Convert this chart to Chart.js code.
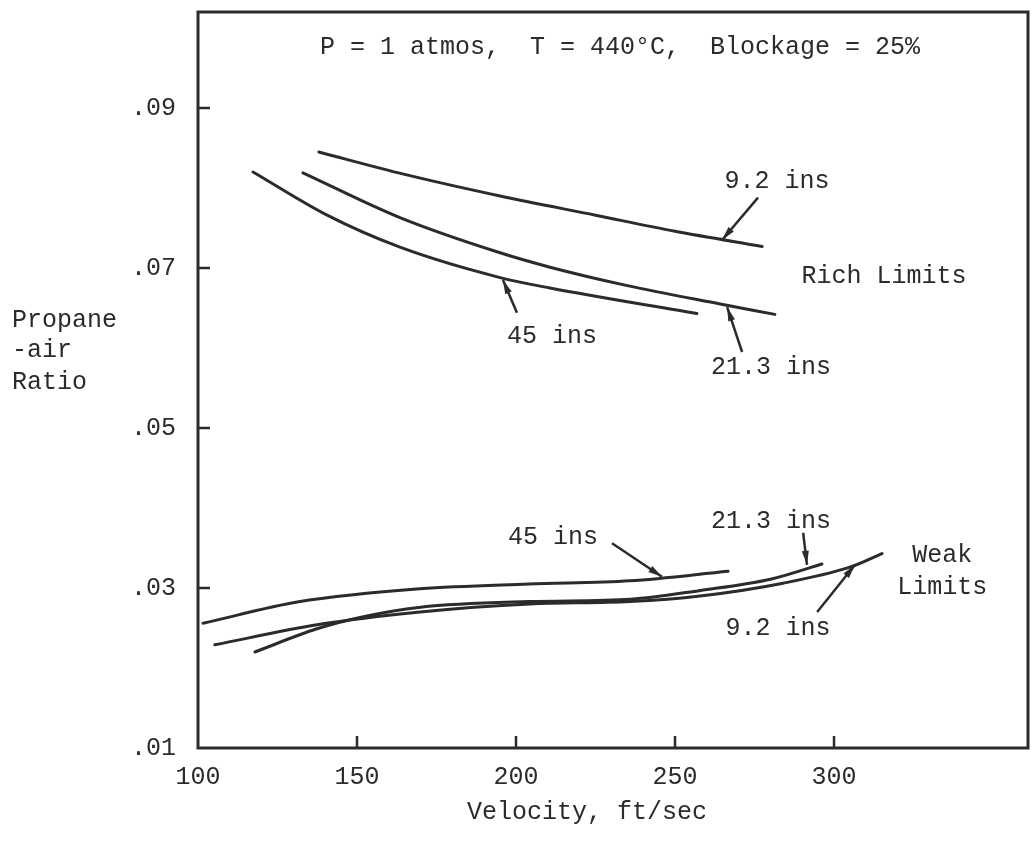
<!DOCTYPE html>
<html>
<head>
<meta charset="utf-8">
<script src="https://cdn.jsdelivr.net/npm/chart.js@4"></script>
<style>
  body { margin: 0; background: #fff; }
  #wrap { width: 1032px; height: 843px; }
</style>
</head>
<body>
<div id="wrap"><canvas id="c"></canvas></div>
<script>
// velocity (ft/sec) and propane-air ratio
var rich92V  = [138, 165, 195, 225, 250, 277.4];
var rich92R  = [0.0845, 0.0817, 0.0790, 0.0766, 0.0746, 0.0727];
var rich213V = [133, 163.5, 195, 210.7, 235, 264.2, 281.4];
var rich213R = [0.0819, 0.0763, 0.0719, 0.0701, 0.0678, 0.0655, 0.0642];
var rich45V  = [117.3, 140.6, 163.5, 195, 210.7, 256.9];
var rich45R  = [0.082, 0.0766, 0.0726, 0.0688, 0.0675, 0.0643];

var weak45V  = [101.6, 132.1, 169.8, 204, 235.8, 266.7];
var weak45R  = [0.0256, 0.0283, 0.0299, 0.0305, 0.0309, 0.0321];
var weak92V  = [105.3, 137.4, 169.8, 204.4, 235.8, 257.9, 284, 305, 315.1];
var weak92R  = [0.0229, 0.0254, 0.0270, 0.0280, 0.0283, 0.0290, 0.0306, 0.0326, 0.0343];
var weak213V = [117.9, 137.4, 153.1, 170, 204, 236, 258, 280, 296.2];
var weak213R = [0.0220, 0.0249, 0.0265, 0.0276, 0.0283, 0.0286, 0.0297, 0.0311, 0.0330];

var xTicks = [100, 150, 200, 250, 300];
var yTicks = [0.01, 0.03, 0.05, 0.07, 0.09];

var FONT = '"Liberation Mono", "DejaVu Sans Mono", monospace';
var INK = '#2b2b2b';

function pts(vs, rs) {
    return vs.map(function (v, i) { return { x: v, y: rs[i] }; });
}

function curve(vs, rs) {
    return {
        data: pts(vs, rs),
        borderColor: INK,
        borderWidth: 3,
        pointRadius: 0,
        fill: false,
        cubicInterpolationMode: 'monotone',
        borderCapStyle: 'round'
    };
}

// text labels placed in data units
var notes = [
    { text: 'P = 1 atmos,  T = 440°C,  Blockage = 25%', x: 232.7, y: 0.0976 },
    { text: '9.2 ins', x: 282.1, y: 0.0808 },
    { text: 'Rich Limits', x: 315.7, y: 0.069 },
    { text: '45 ins', x: 211.3, y: 0.0614 },
    { text: '21.3 ins', x: 280.2, y: 0.0576 },
    { text: '45 ins', x: 211.6, y: 0.0363 },
    { text: '21.3 ins', x: 280.2, y: 0.0383 },
    { text: '9.2 ins', x: 282.4, y: 0.025 },
    { text: 'Weak', x: 334, y: 0.0341 },
    { text: 'Limits', x: 334, y: 0.0301 }
];

// leader arrows: from (x1,y1) to tip (x2,y2)
var arrows = [
    [276.1, 0.0788, 264.8, 0.0735],
    [200.3, 0.0644, 195.9, 0.0685],
    [271.1, 0.0595, 266.4, 0.0651],
    [230.2, 0.0356, 245.9, 0.0314],
    [290.3, 0.0369, 291.5, 0.0329],
    [294.7, 0.0270, 306.6, 0.0329]
];

var yTitle = ['Propane', '-air', 'Ratio'];
var yTitleR = [0.0635, 0.05975, 0.05575];

var extras = {
    id: 'extras',
    afterDraw: function (chart) {
        var ctx = chart.ctx;
        var a = chart.chartArea;
        var xs = chart.scales.x, ys = chart.scales.y;
        ctx.save();
        ctx.strokeStyle = INK;
        ctx.fillStyle = INK;

        // frame
        ctx.lineWidth = 3;
        ctx.strokeRect(a.left, a.top, a.right - a.left, a.bottom - a.top);

        // inward tick marks
        ctx.lineWidth = 2.5;
        xs.ticks.forEach(function (t) {
            var p = xs.getPixelForValue(t.value);
            if (p <= a.left + 1) return;
            ctx.beginPath();
            ctx.moveTo(p, a.bottom);
            ctx.lineTo(p, a.bottom - 12);
            ctx.stroke();
        });
        ys.ticks.forEach(function (t) {
            var p = ys.getPixelForValue(t.value);
            if (p >= a.bottom - 1) return;
            ctx.beginPath();
            ctx.moveTo(a.left, p);
            ctx.lineTo(a.left + 12, p);
            ctx.stroke();
        });

        // labels
        ctx.font = '25px ' + FONT;
        ctx.textAlign = 'center';
        ctx.textBaseline = 'middle';
        notes.forEach(function (n) {
            ctx.fillText(n.text, xs.getPixelForValue(n.x), ys.getPixelForValue(n.y));
        });

        // arrows
        ctx.lineWidth = 2.5;
        arrows.forEach(function (r) {
            var x1 = xs.getPixelForValue(r[0]), y1 = ys.getPixelForValue(r[1]);
            var x2 = xs.getPixelForValue(r[2]), y2 = ys.getPixelForValue(r[3]);
            ctx.beginPath();
            ctx.moveTo(x1, y1);
            ctx.lineTo(x2, y2);
            ctx.stroke();
            var ang = Math.atan2(y2 - y1, x2 - x1);
            ctx.beginPath();
            ctx.moveTo(x2, y2);
            ctx.lineTo(x2 - 14 * Math.cos(ang) + 3.5 * Math.sin(ang), y2 - 14 * Math.sin(ang) - 3.5 * Math.cos(ang));
            ctx.lineTo(x2 - 14 * Math.cos(ang) - 3.5 * Math.sin(ang), y2 - 14 * Math.sin(ang) + 3.5 * Math.cos(ang));
            ctx.closePath();
            ctx.fill();
        });

        // axis titles
        ctx.textAlign = 'left';
        yTitle.forEach(function (s, i) {
            ctx.fillText(s, 12, ys.getPixelForValue(yTitleR[i]));
        });
        ctx.textAlign = 'center';
        ctx.fillText('Velocity, ft/sec', xs.getPixelForValue(222.3), a.bottom + 64);
        ctx.restore();
    }
};

new Chart(document.getElementById('c'), {
    type: 'line',
    data: {
        datasets: [
            curve(rich92V, rich92R),
            curve(rich213V, rich213R),
            curve(rich45V, rich45R),
            curve(weak45V, weak45R),
            curve(weak92V, weak92R),
            curve(weak213V, weak213R)
        ]
    },
    options: {
        responsive: true,
        maintainAspectRatio: false,
        animation: false,
        layout: { padding: { top: 12, right: 4, left: 0, bottom: 0 } },
        plugins: {
            legend: { display: false },
            tooltip: { enabled: false }
        },
        scales: {
            x: {
                type: 'linear',
                min: 100,
                max: 361,
                afterBuildTicks: function (s) { s.ticks = xTicks.map(function (v) { return { value: v }; }); },
                afterFit: function (s) { s.height = 95; s.paddingLeft = 0; s.paddingRight = 0; },
                grid: { display: false, drawTicks: false },
                border: { display: false },
                ticks: {
                    padding: 14,
                    color: INK,
                    font: { family: FONT, size: 25 },
                    maxRotation: 0
                }
            },
            y: {
                type: 'linear',
                min: 0.01,
                max: 0.102,
                afterBuildTicks: function (s) { s.ticks = yTicks.map(function (v) { return { value: v }; }); },
                afterFit: function (s) { s.width = 198; s.paddingTop = 0; s.paddingBottom = 0; },
                grid: { display: false, drawTicks: false },
                border: { display: false },
                ticks: {
                    padding: 22,
                    color: INK,
                    font: { family: FONT, size: 25 },
                    callback: function (v) { return v.toFixed(2).replace('0.', '.'); }
                }
            }
        }
    },
    plugins: [extras]
});
</script>
</body>
</html>
